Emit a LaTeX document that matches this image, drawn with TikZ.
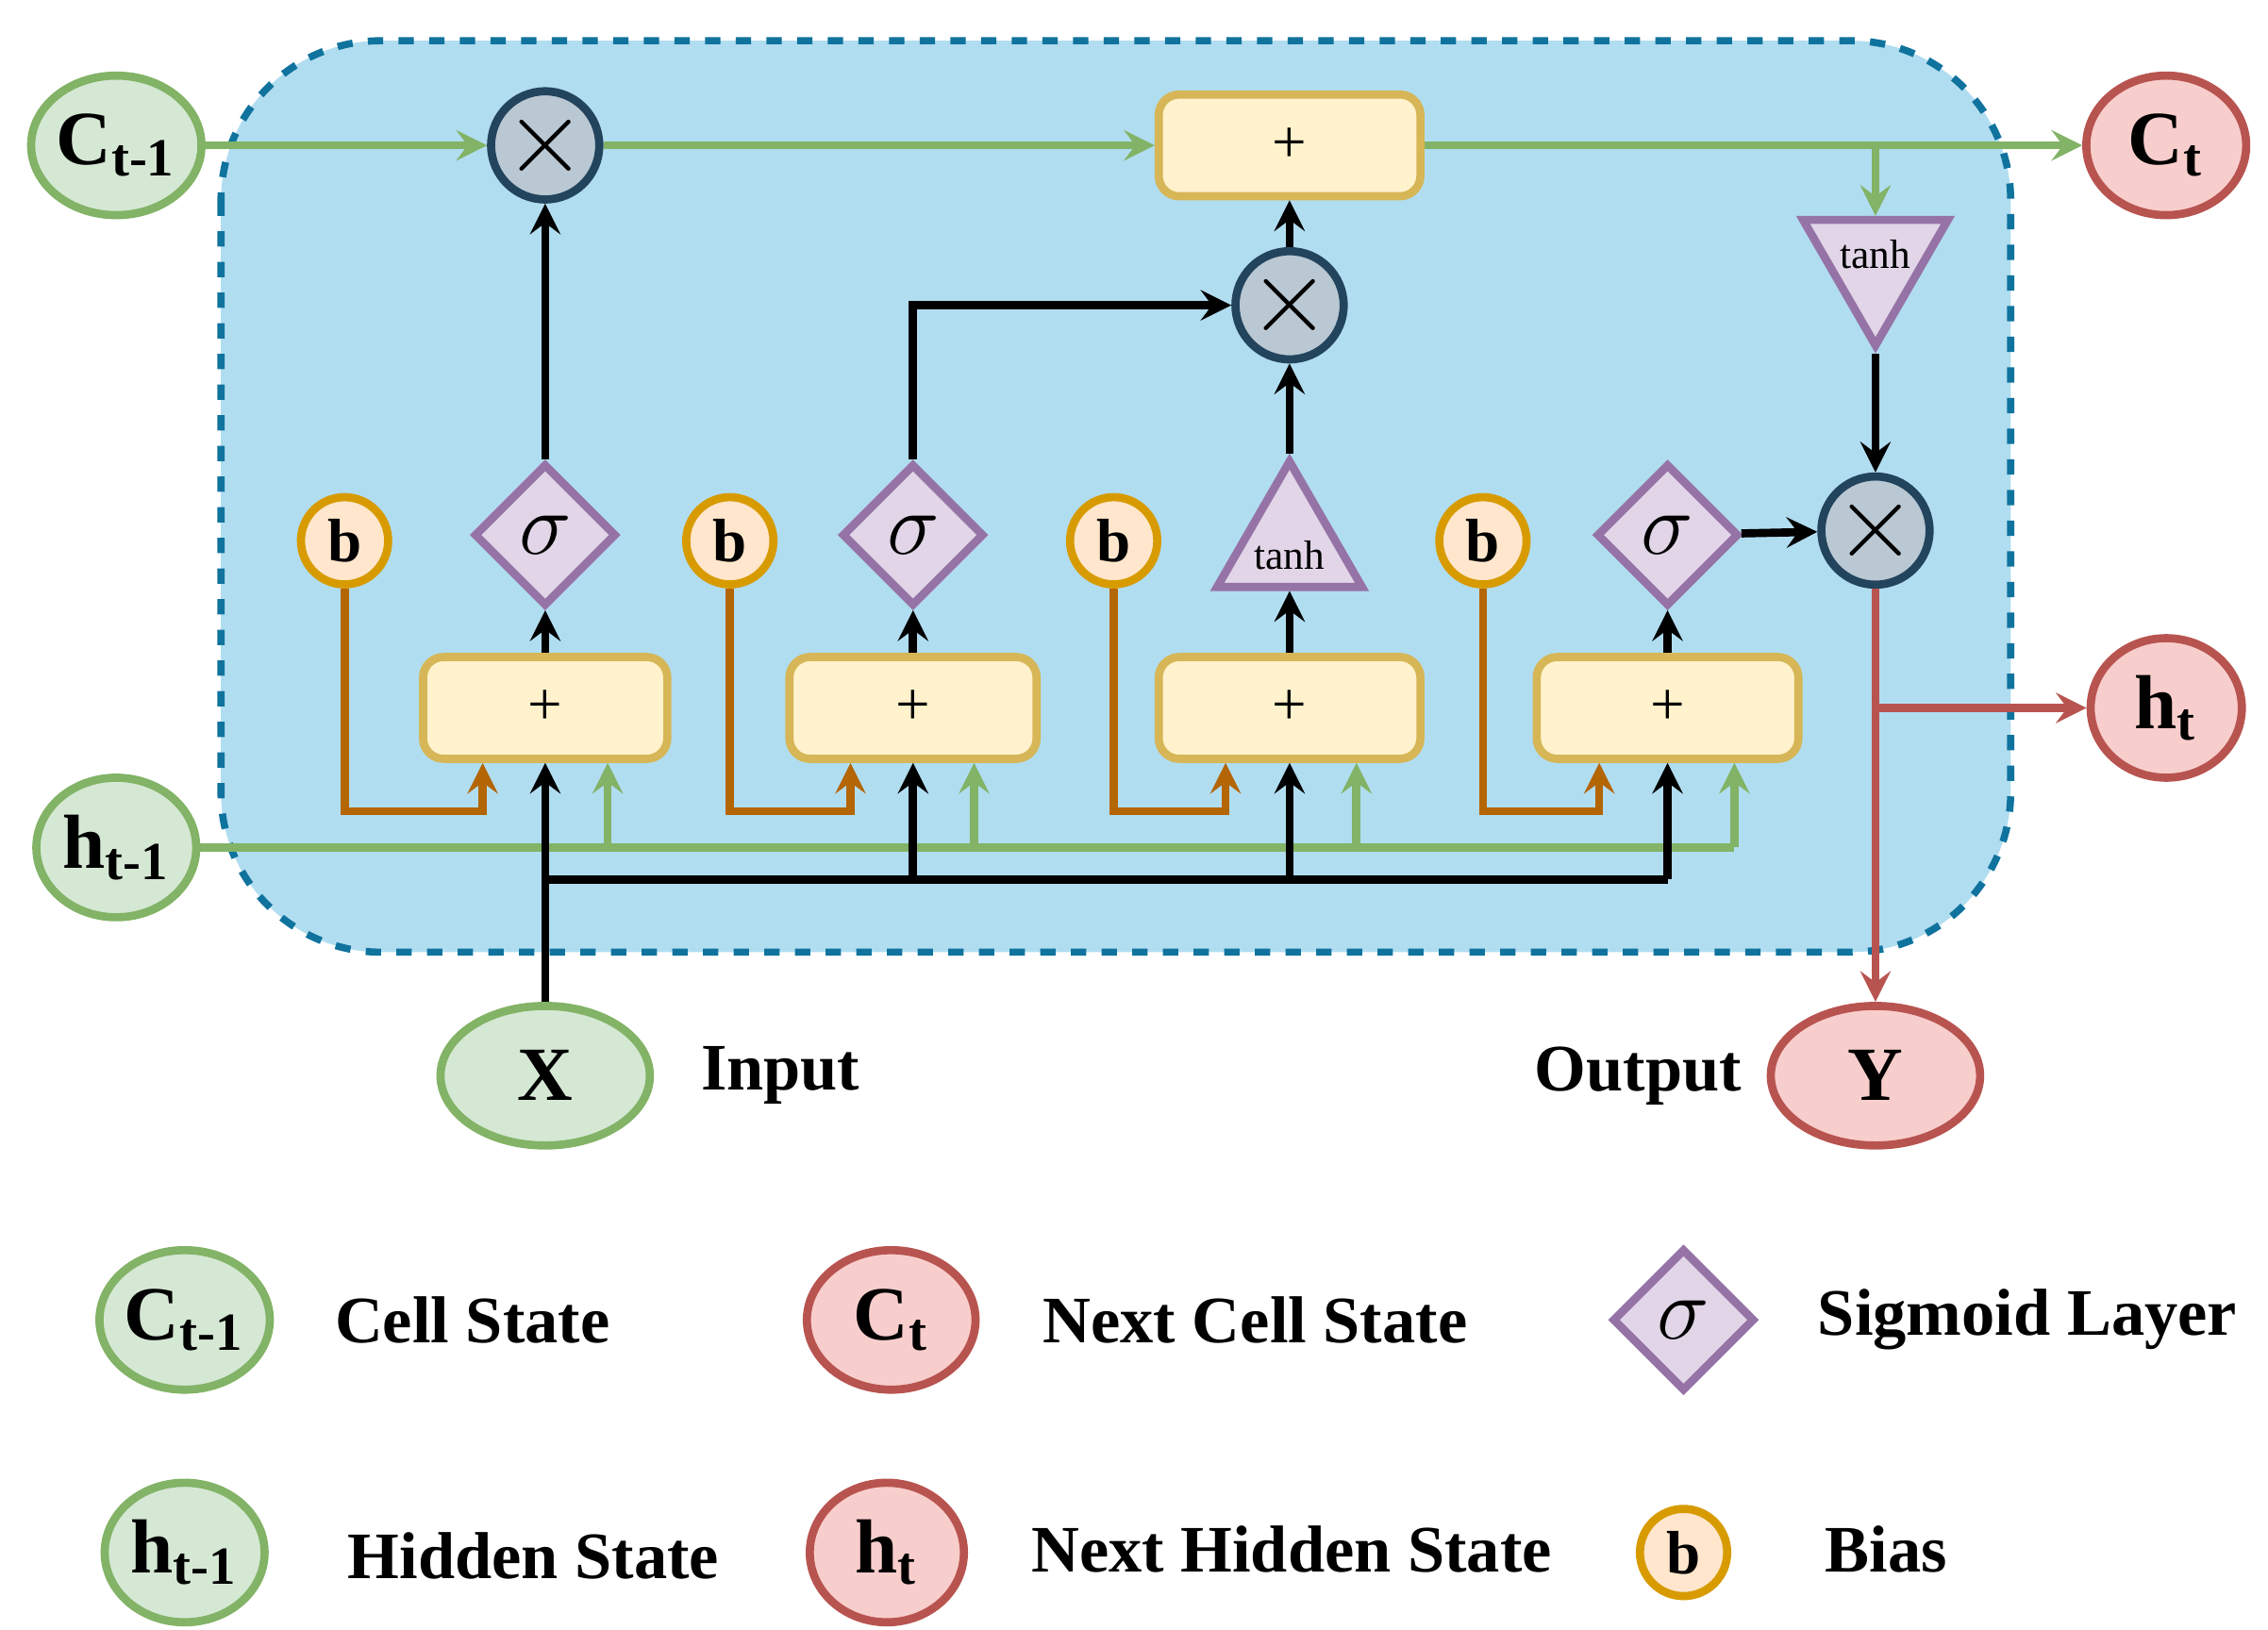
\documentclass[tikz,border=0pt]{standalone}
\usepackage{fontspec}
\setmainfont{Liberation Serif}
\usetikzlibrary{shapes.geometric,positioning}
\definecolor{cellblue}{HTML}{B1DDF0}
\definecolor{celledge}{HTML}{10739E}
\definecolor{gfill}{HTML}{D5E8D4}
\definecolor{gedge}{HTML}{82B366}
\definecolor{rfill}{HTML}{F8CECC}
\definecolor{redge}{HTML}{B85450}
\definecolor{yfill}{HTML}{FFF2CC}
\definecolor{yedge}{HTML}{D6B656}
\definecolor{pfill}{HTML}{E1D5E7}
\definecolor{pedge}{HTML}{9673A6}
\definecolor{ofill}{HTML}{FFE6CC}
\definecolor{oedge}{HTML}{D79B00}
\definecolor{ocol}{HTML}{B46504}
\definecolor{mfill}{HTML}{BAC8D3}
\definecolor{medge}{HTML}{23445D}
\tikzset{
  state/.style={ellipse, line width=1.6pt, minimum width=1.1cm, minimum height=0.96cm, inner sep=0pt, font=\fontsize{15}{17}\selectfont\bfseries},
  instate/.style={state, fill=gfill, draw=gedge},
  outstate/.style={state, fill=rfill, draw=redge},
  sumbox/.style={rectangle, rounded corners=4pt, fill=yfill, draw=yedge, line width=1.6pt, minimum height=0.7cm, font=\large},
  mult/.style={circle, fill=mfill, draw=medge, line width=1.6pt, minimum size=0.72cm, inner sep=0pt, font=\huge},
  sig/.style={diamond, fill=pfill, draw=pedge, line width=1.6pt, minimum width=0.98cm, minimum height=0.98cm, inner sep=0pt, font=\LARGE},
  tanhup/.style={regular polygon, regular polygon sides=3, fill=pfill, draw=pedge, line width=1.6pt, minimum size=1.15cm, inner sep=0pt},
  bias/.style={circle, fill=ofill, draw=oedge, line width=1.6pt, minimum size=0.6cm, inner sep=0pt, font=\large\bfseries},
  lbl/.style={font=\fontsize{13}{15}\selectfont\bfseries},
  >=stealth,
  bline/.style={line width=1.6pt, black},
  gline/.style={line width=1.6pt, gedge},
  rline/.style={line width=1.6pt, redge},
  oline/.style={line width=1.6pt, ocol},
}
\begin{document}
\begin{tikzpicture}[x=0.1mm, y=-0.1mm]
  \useasboundingbox (0,0) rectangle (1560,1121);
  % cell
  \draw [fill=cellblue, draw=celledge, dashed, line width=1.4pt, rounded corners=1.1cm] (152,28) rectangle (1383,655);
  % states
  \node [instate] (ct1) at (80,100) {C\textsubscript{t-1}};
  \node [outstate] (ct) at (1490,100) {C\textsubscript{t}};
  \node [instate] (ht1) at (80,583) {h\textsubscript{t-1}};
  \node [outstate, minimum width=1.04cm] (ht) at (1490,487) {h\textsubscript{t}};
  \node [instate, minimum width=1.44cm] (x) at (375,740) {X};
  \node [outstate, minimum width=1.44cm] (y) at (1290,740) {Y};
  \node [lbl, right=0.2cm of x] (inlbl) {Input};
  \node [lbl, left=0.05cm of y] (outlbl) {Output};
  % top row
  \node [mult] (mf) at (375,100) {$\times$};
  \node [sumbox, minimum width=1.8cm] (sc) at (887,100) {+};
  \node [mult] (mi) at (887,210) {$\times$};
  \node [tanhup, shape border rotate=180] (tc) at (1290,180) {};
  \node [font=\footnotesize] (tctext) at (1290,175) {tanh};
  \node [mult] (mo) at (1290,365) {$\times$};
  % gates
  \node [sig] (s1) at (375,368) {$\sigma$};
  \node [sig] (s2) at (628,368) {$\sigma$};
  \node [tanhup] (tg) at (887,375) {};
  \node [font=\footnotesize] (tgtext) at (887,382) {tanh};
  \node [sig] (s4) at (1147,368) {$\sigma$};
  \node [bias] (b1) at (237,372) {b};
  \node [bias] (b2) at (502,372) {b};
  \node [bias] (b3) at (766,372) {b};
  \node [bias] (b4) at (1020,372) {b};
  \node [sumbox, minimum width=1.68cm] (p1) at (375,487) {+};
  \node [sumbox, minimum width=1.7cm] (p2) at (628,487) {+};
  \node [sumbox, minimum width=1.8cm] (p3) at (887,487) {+};
  \node [sumbox, minimum width=1.8cm] (p4) at (1147,487) {+};
  % cell state line
  \draw [gline, ->] (ct1) -- (mf);
  \draw [gline, ->] (mf) -- (sc);
  \draw [gline, ->] (sc) -- (ct);
  \coordinate (cj) at (1290,100);
  \draw [gline, ->] (cj) -- (tc.north);
  % gate outputs
  \draw [bline, ->] (s1) -- (mf);
  \draw [bline, ->] (s2.north) |- (mi);
  \draw [bline, ->] (tg.north) -- (mi);
  \draw [bline, ->] (mi) -- (sc);
  \draw [bline, ->] (s4) -- (mo);
  \draw [bline, ->] (tc.south) -- (mo);
  \draw [bline, ->] (p1) -- (s1);
  \draw [bline, ->] (p2) -- (s2);
  \draw [bline, ->] (p3) -- (tg.south);
  \draw [bline, ->] (p4) -- (s4);
  % hidden state in
  \coordinate (g1) at (418,583);
  \coordinate (g2) at (670,583);
  \coordinate (g3) at (933,583);
  \coordinate (g4) at (1193,583);
  \draw [gline] (ht1) -- (g4);
  \draw [gline, ->] (g1) -- (g1 |- p1.south);
  \draw [gline, ->] (g2) -- (g2 |- p2.south);
  \draw [gline, ->] (g3) -- (g3 |- p3.south);
  \draw [gline, ->] (g4) -- (g4 |- p4.south);
  % input
  \coordinate (xa) at (375,605);
  \coordinate (xe) at (1147,605);
  \draw [bline] (x) -- (xa) -- (xe);
  \draw [bline, ->] (xa) -- (p1.south);
  \draw [bline, ->] (xa -| p2) -- (p2.south);
  \draw [bline, ->] (xa -| p3) -- (p3.south);
  \draw [bline, ->] (xe) -- (p4.south);
  % biases
  \coordinate (o1) at (332,558);
  \coordinate (o2) at (585,558);
  \coordinate (o3) at (843,558);
  \coordinate (o4) at (1100,558);
  \draw [oline, ->] (b1) |- (o1) -- (o1 |- p1.south);
  \draw [oline, ->] (b2) |- (o2) -- (o2 |- p2.south);
  \draw [oline, ->] (b3) |- (o3) -- (o3 |- p3.south);
  \draw [oline, ->] (b4) |- (o4) -- (o4 |- p4.south);
  % output
  \draw [rline, ->] (mo) -- (y);
  \coordinate (hj) at (1290,487);
  \draw [rline, ->] (hj) -- (ht);
  % legend
  \node [instate] (lc1) at (127,908) {C\textsubscript{t-1}};
  \node [lbl, anchor=west] (lc1t) at (218,908) {Cell State};
  \node [outstate, minimum width=1.16cm] (lc) at (613,908) {C\textsubscript{t}};
  \node [lbl, anchor=west] (lct) at (705,908) {Next Cell State};
  \node [sig] (ls) at (1158,908) {$\sigma$};
  \node [lbl, anchor=west] (lst) at (1238,908) {Sigmoid Layer};
  \node [instate] (lh1) at (127,1068) {h\textsubscript{t-1}};
  \node [lbl, anchor=west] (lh1t) at (227,1070) {Hidden State};
  \node [outstate, minimum width=1.06cm] (lh) at (610,1068) {h\textsubscript{t}};
  \node [lbl, anchor=west] (lht) at (697,1066) {Next Hidden State};
  \node [bias] (lb) at (1158,1068) {b};
  \node [lbl, anchor=west] (lbt) at (1243,1066) {Bias};
\end{tikzpicture}
\end{document}
